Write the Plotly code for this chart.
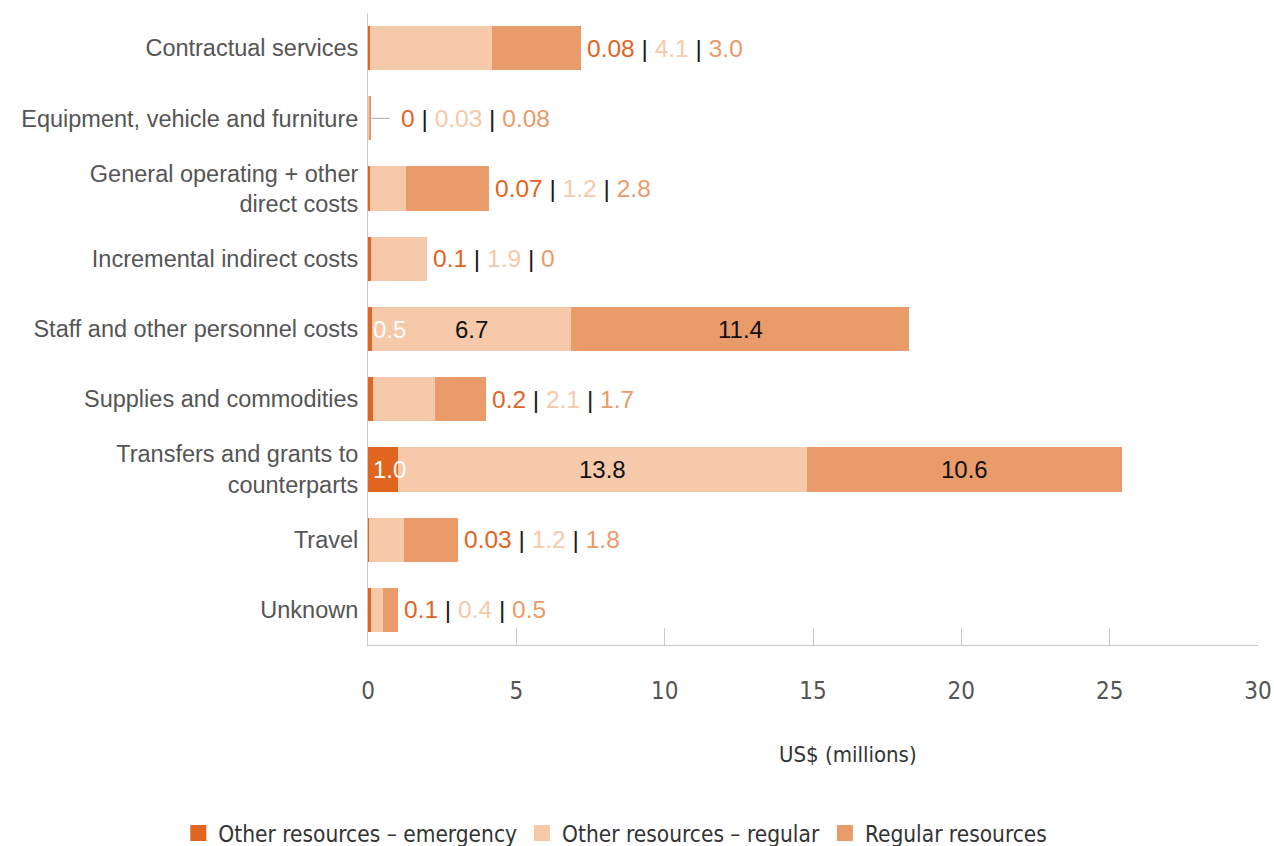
import plotly.graph_objects as go

categories = ["Contractual services", "Equipment, vehicle and furniture",
              "General operating + other<br>direct costs", "Incremental indirect costs",
              "Staff and other personnel costs", "Supplies and commodities",
              "Transfers and grants to<br>counterparts", "Travel", "Unknown"]
emergency = [0.08, 0.0, 0.07, 0.1, 0.14, 0.17, 1.0, 0.03, 0.1]
other_regular = [4.1, 0.03, 1.2, 1.9, 6.7, 2.1, 13.8, 1.2, 0.4]
regular = [3.0, 0.08, 2.8, 0.0, 11.4, 1.7, 10.6, 1.8, 0.5]
emergency_lbl = ["0.08", "0", "0.07", "0.1", "0.5", "0.2", "1.0", "0.03", "0.1"]
other_regular_lbl = ["4.1", "0.03", "1.2", "1.9", "6.7", "2.1", "13.8", "1.2", "0.4"]
regular_lbl = ["3.0", "0.08", "2.8", "0", "11.4", "1.7", "10.6", "1.8", "0.5"]
inside_labels = [False, False, False, False, True, False, True, False, False]
series_names = ["Other resources \u2013 emergency", "Other resources \u2013 regular", "Regular resources"]
x_ticks = [0, 5, 10, 15, 20, 25, 30]

C_EM = "#E0651F"
C_OR = "#F5C9A9"
C_RR = "#EA9B6A"
colors = [C_EM, C_OR, C_RR]

fig = go.Figure()
for name, vals, col in zip(series_names, [emergency, other_regular, regular], colors):
    fig.add_trace(go.Bar(y=categories, x=vals, name=name, orientation="h",
                         marker=dict(color=col, line=dict(width=0)),
                         width=0.63, showlegend=False, hoverinfo="skip"))
for name, col in zip(series_names, colors):
    fig.add_trace(go.Scatter(x=[None], y=[None], mode="markers", name=name,
                             marker=dict(symbol="square", size=18, color=col)))

font_main = "'Liberation Sans', Arial, sans-serif"
font_narrow = "'Liberation Sans Narrow', 'Arial Narrow', 'DejaVu Sans Condensed', sans-serif"
sep = "<span style='color:#1a1a1a'> | </span>"
for i, cat in enumerate(categories):
    total = emergency[i] + other_regular[i] + regular[i]
    if inside_labels[i]:
        fig.add_annotation(x=0, y=cat, xref="x", yref="y", text=emergency_lbl[i],
                           showarrow=False, xanchor="left", xshift=3,
                           font=dict(family=font_main, size=24, color="white"))
        fig.add_annotation(x=emergency[i] + other_regular[i] / 2, y=cat, text=other_regular_lbl[i],
                           showarrow=False, font=dict(family=font_main, size=24, color="#111"))
        fig.add_annotation(x=emergency[i] + other_regular[i] + regular[i] / 2, y=cat,
                           text=regular_lbl[i], showarrow=False,
                           font=dict(family=font_main, size=24, color="#111"))
    else:
        txt = (f"<span style='color:{C_EM}'>{emergency_lbl[i]}</span>{sep}"
               f"<span style='color:{C_OR}'>{other_regular_lbl[i]}</span>{sep}"
               f"<span style='color:{C_RR}'>{regular_lbl[i]}</span>")
        shift = 4
        if total < 0.5:
            shift = 28
            fig.add_shape(type="line", xref="x", yref="y", x0=total, x1=total + 0.62,
                          y0=i, y1=i, line=dict(color="#aaaaaa", width=1))
        fig.add_annotation(x=total, y=cat, text=txt, showarrow=False, xanchor="left",
                           xshift=shift, yshift=0,
                           font=dict(family=font_main, size=24.5, color="#111"))

fig.add_annotation(x=0.539, y=-0.174, xref="paper", yref="paper", text="US$ (millions)",
                   showarrow=False, yanchor="middle", xanchor="center",
                   font=dict(family=font_narrow, size=22, color="#333"))

fig.update_layout(
    barmode="stack", width=1274, height=846,
    margin=dict(l=368, r=16, t=13, b=201),
    plot_bgcolor="white", paper_bgcolor="white",
    font=dict(family=font_main, color="#555"),
    xaxis=dict(range=[0, 30], tickvals=x_ticks, showgrid=False, zeroline=False,
               showline=True, linecolor="#c8c8c8", linewidth=1, automargin=False,
               ticks="inside", ticklen=17, tickcolor="#c8c8c8",
               ticklabelstandoff=24,
               tickfont=dict(family=font_narrow, size=24, color="#555")),
    yaxis=dict(categoryorder="array", categoryarray=categories, range=[8.5, -0.5],
               showgrid=False, zeroline=False, showline=True, linecolor="#c8c8c8",
               ticks="", ticklabelstandoff=4, automargin=False,
               tickfont=dict(family=font_main, size=23.5, color="#555")),
    legend=dict(orientation="h", xref="container", yref="container", x=0.483, y=0.015,
                xanchor="center", yanchor="middle", traceorder="normal",
                font=dict(family=font_narrow, size=22.5, color="#333"),
                itemwidth=30, tracegroupgap=0),
)

fig.write_html("out.html", config={"displayModeBar": False},
               post_script="document.body.style.margin='0';document.body.style.overflow='hidden';")
